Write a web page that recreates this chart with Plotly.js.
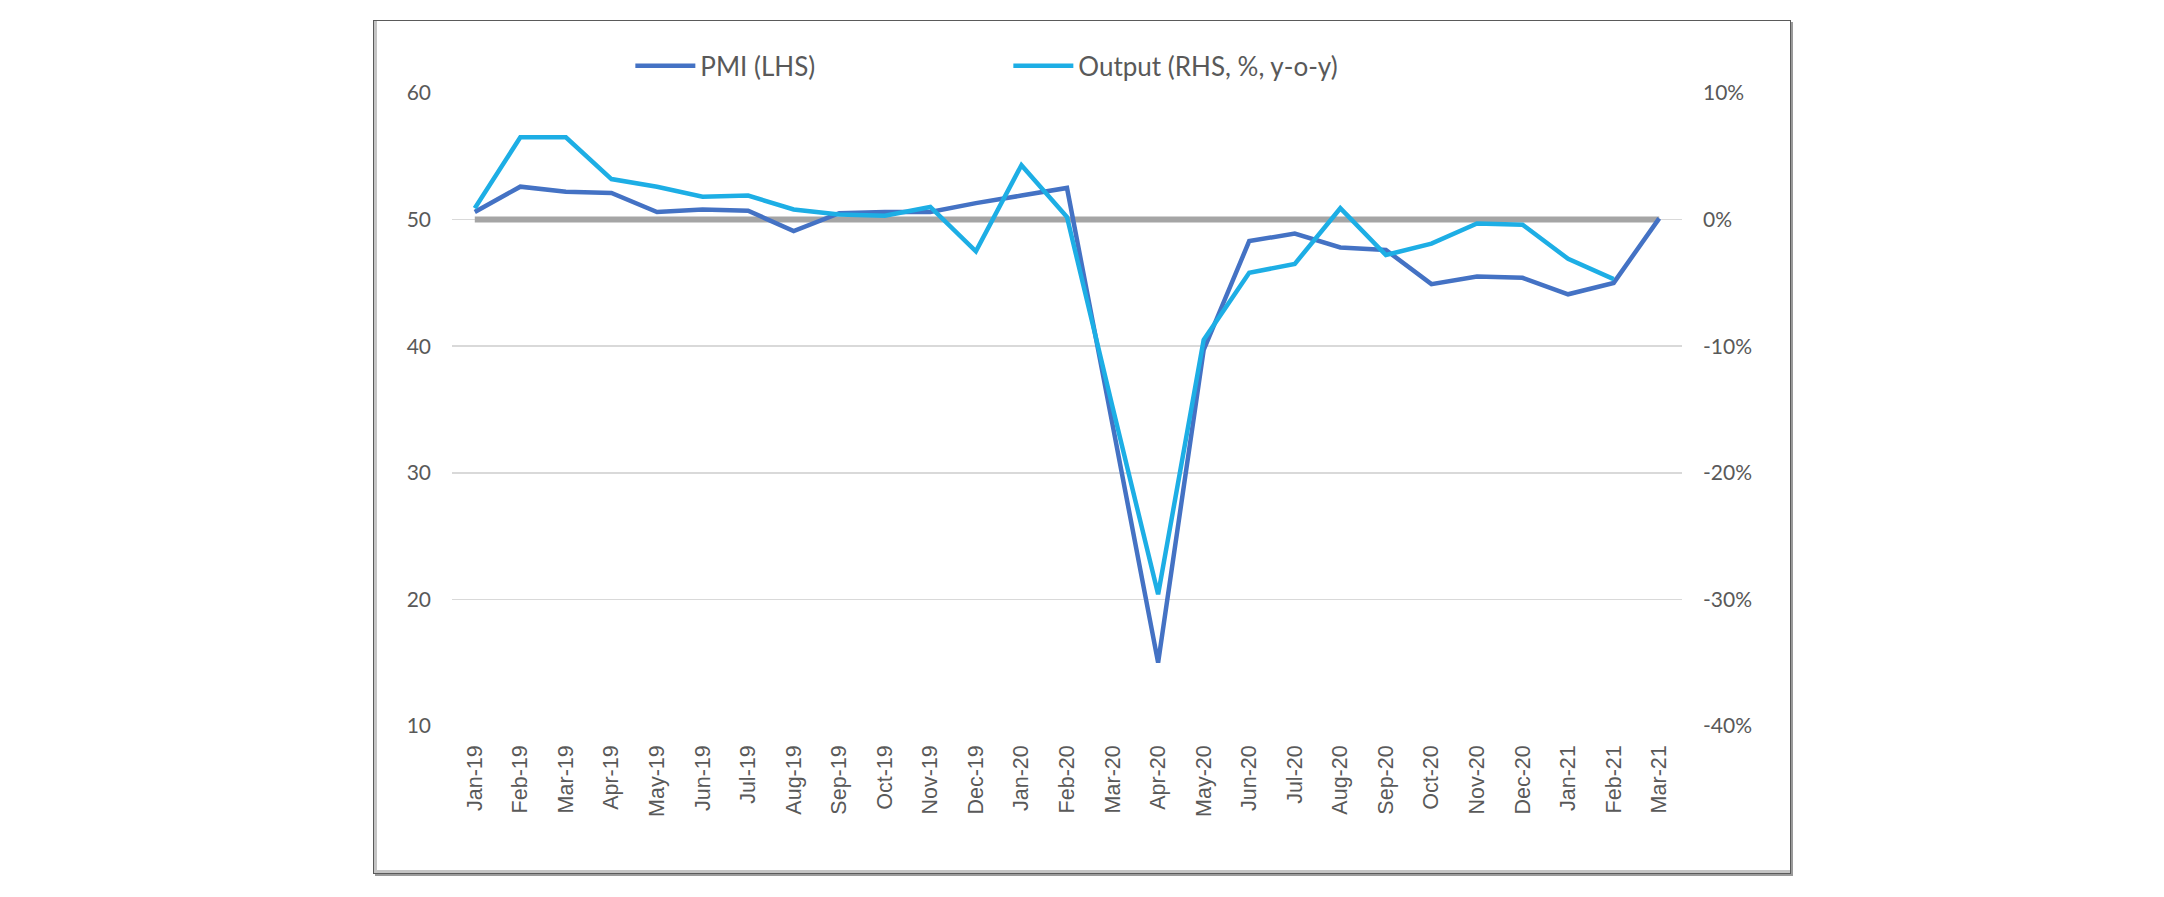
<!DOCTYPE html>
<html>
<head>
<meta charset="utf-8">
<script src="https://cdn.plot.ly/plotly-3.0.1.min.js"></script>
<style>
  html, body { margin: 0; padding: 0; background: #ffffff; }
  #frame {
    position: absolute; left: 373px; top: 20px;
    width: 1416px; height: 852px;
    border: 1px solid #5a5a5a;
    box-shadow: inset 3px -3px 0 0 #c4c4c4, 2px 2px 0 0 #9a9a9a;
    background: #ffffff;
  }
  #chart { width: 1416px; height: 852px; }
</style>
</head>
<body>
<div id="frame"><div id="chart"></div></div>
<script>
const months = ['Jan-19','Feb-19','Mar-19','Apr-19','May-19','Jun-19','Jul-19','Aug-19','Sep-19','Oct-19','Nov-19','Dec-19',
                'Jan-20','Feb-20','Mar-20','Apr-20','May-20','Jun-20','Jul-20','Aug-20','Sep-20','Oct-20','Nov-20','Dec-20',
                'Jan-21','Feb-21','Mar-21'];
const pmi = [50.6, 52.6, 52.2, 52.1, 50.6, 50.8, 50.7, 49.1, 50.5, 50.6, 50.6, 51.3,
             51.9, 52.5, 33.8, 15.0, 39.7, 48.3, 48.9, 47.8, 47.6, 44.9, 45.5, 45.4,
             44.1, 45.0, 50.1];
const output = [0.9, 6.5, 6.5, 3.2, 2.6, 1.8, 1.9, 0.8, 0.4, 0.3, 1.0, -2.5,
                4.3, 0.2, -14.8, -29.6, -9.5, -4.2, -3.5, 0.9, -2.8, -1.9, -0.3, -0.4,
                -3.1, -4.7, null];
const pmiName = 'PMI (LHS)';
const outputName = 'Output (RHS, %, y-o-y)';
const pmiNeutral = 50;
const leftTicks = [10, 20, 30, 40, 50, 60];
const rightTicks = [-40, -30, -20, -10, 0, 10];

const textColor = '#595959';

const traces = [
  {
    x: months, y: pmi, name: pmiName, type: 'scatter', mode: 'lines',
    line: { color: '#4472C4', width: 4.5 }, yaxis: 'y'
  },
  {
    x: months, y: output, name: outputName, type: 'scatter', mode: 'lines',
    line: { color: '#1DAEE5', width: 4.5 }, yaxis: 'y2', connectgaps: false
  }
];

const layout = {
  width: 1416, height: 852,
  margin: { l: 78, r: 108, t: 72, b: 146.5 },
  paper_bgcolor: 'rgba(0,0,0,0)',
  plot_bgcolor: 'rgba(0,0,0,0)',
  font: { family: 'Lato, "Open Sans", sans-serif', color: textColor, size: 21 },
  showlegend: true,
  legend: {
    orientation: 'h', x: 0.145, xanchor: 'left', y: 1.043, yanchor: 'middle',
    font: { family: 'Lato, sans-serif', size: 26, color: textColor },
    entrywidth: 303, itemwidth: 60, bgcolor: 'rgba(0,0,0,0)'
  },
  xaxis: {
    type: 'category', range: [-0.5, 26.5],
    showgrid: false, zeroline: false, showline: false, ticks: '',
    tickangle: -90, tickfont: { family: '"Liberation Sans", Arial, sans-serif', size: 21.5, color: textColor },
    ticklabelstandoff: 14
  },
  yaxis: {
    range: [10, 60], tickvals: leftTicks, ticktext: leftTicks.map(String),
    showgrid: true, gridcolor: '#d9d9d9', gridwidth: 1.6,
    zeroline: false, showline: false, ticks: '',
    tickfont: { family: 'Lato, sans-serif', size: 21, color: textColor },
    ticklabelstandoff: 20
  },
  yaxis2: {
    overlaying: 'y', side: 'right', range: [-40, 10],
    tickvals: rightTicks, ticktext: rightTicks.map(v => v + '%'),
    showgrid: false, zeroline: false, showline: false, ticks: '',
    tickfont: { family: 'Lato, sans-serif', size: 21, color: textColor },
    ticklabelstandoff: 20
  },
  shapes: [
    {
      type: 'line', xref: 'x', yref: 'y', layer: 'between',
      x0: months[0], x1: months[months.length - 1], y0: pmiNeutral, y1: pmiNeutral,
      line: { color: '#A5A5A5', width: 6 }
    }
  ]
};

Plotly.newPlot('chart', traces, layout, { displayModeBar: false, staticPlot: true });
</script>
</body>
</html>
